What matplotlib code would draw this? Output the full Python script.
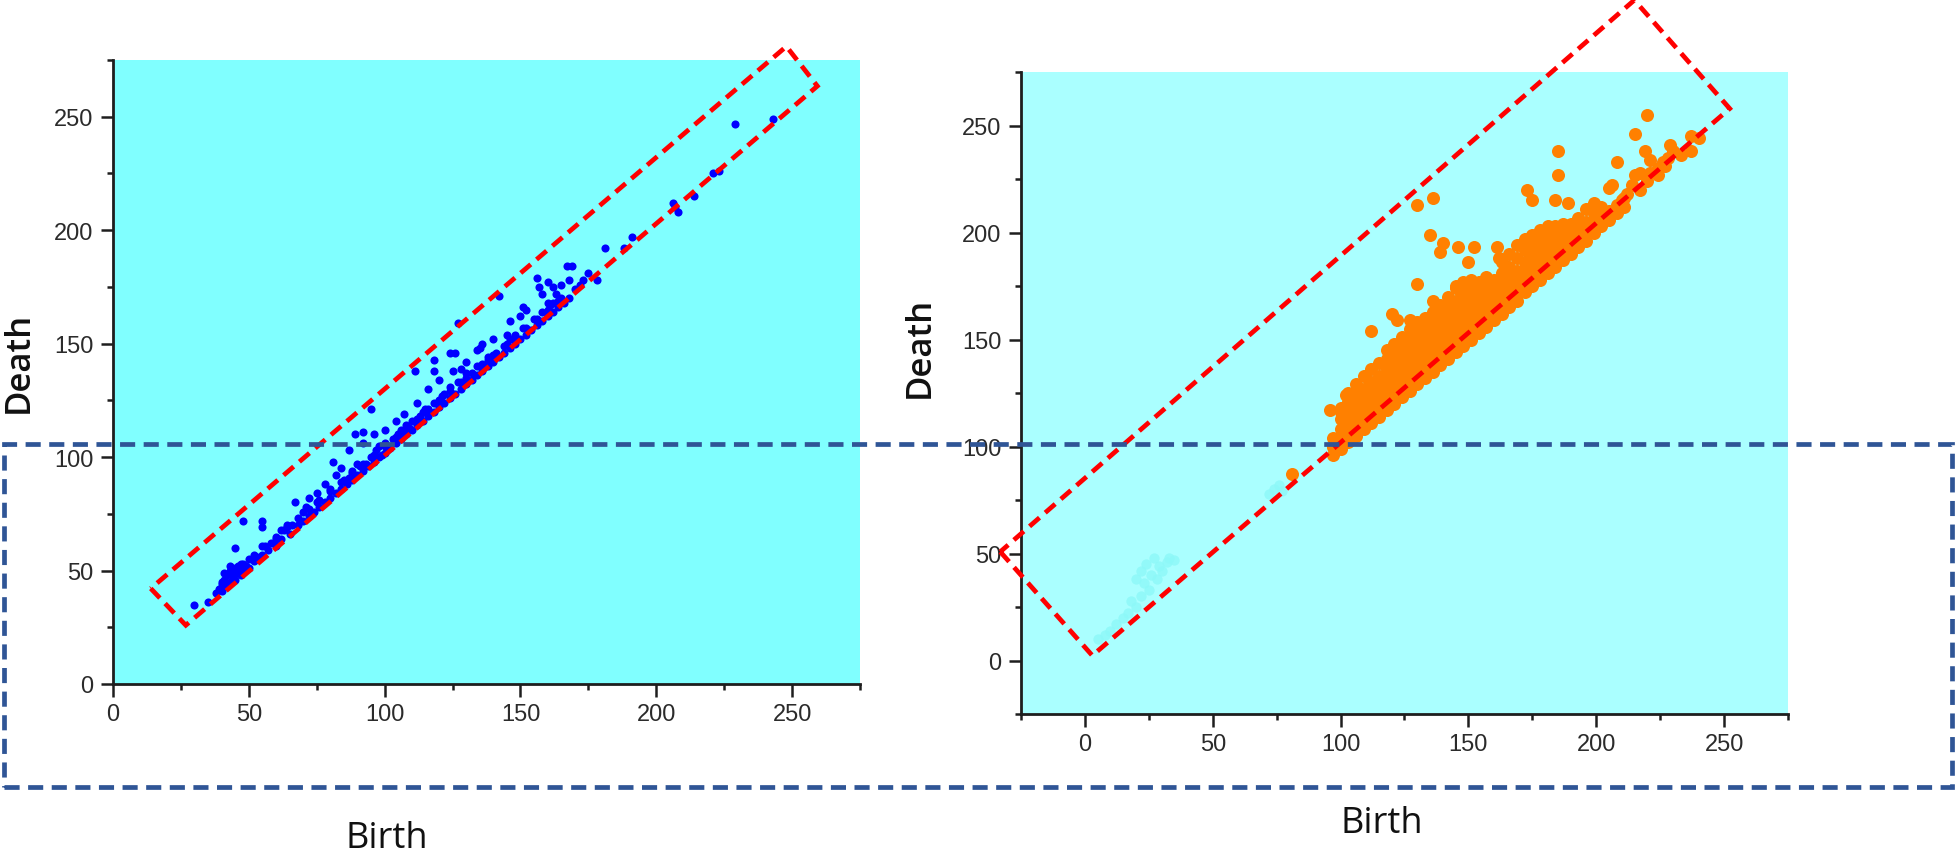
import numpy as np
import matplotlib.pyplot as plt
from matplotlib.patches import Polygon, Rectangle
from matplotlib.ticker import MultipleLocator

# ============================================================
# DATA  (birth, death) pairs
# ============================================================
left_band = [
    (30, 35), (35, 36), (38, 40), (39, 42), (40, 41), (40, 44), (41, 46), (42, 43),
    (42, 48), (43, 45), (43, 50), (44, 47), (45, 46), (45, 51), (46, 49), (47, 48),
    (47, 53), (48, 50), (49, 52), (50, 51), (50, 55), (52, 54), (53, 56), (55, 57),
    (55, 61), (57, 59), (58, 62), (60, 61), (60, 65), (62, 64), (63, 68), (65, 66),
    (66, 70), (68, 70), (70, 72), (70, 76), (72, 74), (74, 76), (75, 80), (76, 78),
    (78, 80), (80, 82), (80, 86), (82, 84), (84, 86), (85, 90), (86, 88), (87, 91),
    (88, 90), (88, 94), (90, 92), (91, 96), (92, 94), (93, 97), (94, 96), (95, 100),
    (96, 98), (97, 103), (98, 100), (99, 101), (100, 102), (100, 106), (101, 103),
    (102, 104), (103, 108), (104, 106), (105, 110), (106, 108), (107, 111), (108, 110),
    (108, 114), (109, 113), (110, 112), (110, 116), (112, 114), (113, 118), (114, 116),
    (115, 121), (116, 118), (118, 120), (118, 124), (120, 122), (121, 127), (122, 124),
    (124, 126), (124, 131), (126, 128), (127, 133), (128, 130), (130, 132), (130, 137),
    (132, 134), (134, 136), (134, 140), (136, 138), (138, 140), (138, 144), (140, 142),
    (141, 146), (142, 144), (144, 146), (145, 150), (146, 148), (148, 150), (148, 154),
    (150, 152), (151, 157), (152, 154), (154, 156), (155, 161), (156, 158), (158, 160),
    (158, 164), (160, 162), (161, 167), (162, 164), (164, 166), (165, 170), (166, 168),
    (168, 170),
]
left_band_upper = [
    (40, 45), (41, 49), (43, 52), (44, 49), (46, 52), (48, 53), (52, 57), (56, 61),
    (60, 64), (64, 69), (68, 73), (72, 77), (76, 81), (80, 85), (84, 89), (88, 93),
    (90, 97), (92, 97), (96, 101), (98, 105), (100, 105), (104, 109), (106, 112),
    (108, 113), (112, 117), (114, 120), (116, 121), (120, 125), (122, 128), (124, 129),
    (128, 133), (130, 135), (132, 137), (136, 141), (138, 143), (140, 145), (144, 149),
    (146, 152), (148, 153), (152, 157), (156, 161), (160, 165), (162, 168), (164, 169),
]
left_outliers = [
    (45, 60), (48, 72), (55, 72), (55, 69), (62, 68), (64, 70), (67, 80), (71, 78),
    (72, 82), (75, 84), (78, 88), (81, 98), (82, 92), (84, 95), (87, 103), (89, 110),
    (92, 106), (92, 111), (95, 121), (96, 110), (100, 112), (104, 116), (107, 119),
    (111, 138), (112, 124), (116, 130), (118, 143), (118, 138), (120, 134), (124, 146),
    (125, 138), (126, 146), (127, 159), (128, 139), (130, 142), (134, 147), (135, 148),
    (136, 150), (140, 152), (142, 171), (145, 154), (146, 160), (150, 162), (151, 166),
    (152, 165), (156, 179), (157, 175), (158, 172), (160, 177), (160, 168), (162, 175),
    (163, 172), (165, 176), (167, 184), (168, 178), (169, 184), (170, 174), (172, 176),
    (173, 178), (175, 181), (178, 178), (181, 192), (188, 192), (191, 197), (206, 212),
    (207, 210), (208, 208), (214, 215), (221, 225), (223, 226), (229, 247), (243, 249),
]

right_band = [
    (97, 96), (97, 100), (97, 104),
    (100, 99), (100, 103), (100, 108), (100, 113), (100, 118),
    (103, 102), (103, 106), (103, 111), (103, 116), (103, 121), (103, 125),
    (106, 105), (106, 109), (106, 114), (106, 119), (106, 124), (106, 129),
    (109, 108), (109, 112), (109, 117), (109, 122), (109, 127), (109, 133),
    (112, 111), (112, 115), (112, 120), (112, 125), (112, 130), (112, 136),
    (115, 114), (115, 118), (115, 123), (115, 128), (115, 133), (115, 139),
    (118, 117), (118, 121), (118, 126), (118, 131), (118, 136), (118, 141), (118, 145),
    (121, 120), (121, 124), (121, 129), (121, 134), (121, 139), (121, 144), (121, 148),
    (124, 123), (124, 127), (124, 132), (124, 137), (124, 142), (124, 147), (124, 151),
    (127, 126), (127, 130), (127, 135), (127, 140), (127, 145), (127, 150), (127, 155),
    (130, 129), (130, 133), (130, 138), (130, 143), (130, 148), (130, 153), (130, 158),
    (133, 132), (133, 136), (133, 141), (133, 146), (133, 151), (133, 156), (133, 160),
    (136, 135), (136, 139), (136, 144), (136, 149), (136, 154), (136, 159), (136, 163),
    (139, 138), (139, 142), (139, 147), (139, 152), (139, 157), (139, 162), (139, 166),
    (142, 141), (142, 145), (142, 150), (142, 155), (142, 160), (142, 165), (142, 170),
    (145, 144), (145, 148), (145, 153), (145, 158), (145, 163), (145, 168), (145, 174),
    (148, 147), (148, 151), (148, 156), (148, 161), (148, 166), (148, 171), (148, 177),
    (151, 150), (151, 154), (151, 159), (151, 164), (151, 169), (151, 174), (151, 178),
    (154, 153), (154, 157), (154, 162), (154, 167), (154, 172), (154, 177),
    (157, 156), (157, 160), (157, 165), (157, 170), (157, 175), (157, 179),
    (160, 159), (160, 163), (160, 168), (160, 173), (160, 178),
    (163, 162), (163, 166), (163, 171), (163, 176), (163, 181), (163, 186),
    (166, 165), (166, 169), (166, 174), (166, 179), (166, 184), (166, 190),
    (169, 168), (169, 172), (169, 177), (169, 182), (169, 188), (169, 194),
    (172, 172), (172, 176), (172, 181), (172, 186), (172, 192), (172, 197),
    (175, 175), (175, 179), (175, 184), (175, 189), (175, 194), (175, 199),
    (178, 178), (178, 182), (178, 187), (178, 192), (178, 197), (178, 201),
    (181, 181), (181, 185), (181, 190), (181, 195), (181, 200), (181, 203),
    (184, 184), (184, 188), (184, 193), (184, 198), (184, 203),
    (187, 187), (187, 191), (187, 196), (187, 201), (187, 204),
    (190, 190), (190, 194), (190, 199), (190, 204),
    (193, 193), (193, 197), (193, 202), (193, 207),
    (196, 196), (196, 200), (196, 205), (196, 211),
    (199, 200), (199, 204), (199, 209),
    (202, 203), (202, 207), (202, 212),
    (205, 206), (205, 210), (208, 209), (208, 213), (211, 212), (211, 216),
]
right_outliers = [
    (81, 87), (96, 117), (100, 116), (102, 124), (112, 154), (120, 162), (122, 159),
    (127, 159), (130, 176), (136, 168), (135, 199), (140, 195), (139, 191), (130, 213),
    (136, 216), (146, 193), (152, 193), (150, 186), (161, 193), (162, 188), (145, 175),
    (147, 172), (173, 220), (175, 215), (184, 215), (189, 214), (185, 238), (185, 227),
    (199, 214), (205, 221), (206, 222), (208, 233), (202, 204), (206, 209), (215, 227),
    (217, 228), (221, 228), (220, 224), (224, 227), (217, 220), (219, 238), (221, 234),
    (215, 246), (220, 255), (229, 241), (237, 245), (240, 244), (237, 238), (233, 236),
    (224, 230), (226, 233), (228, 235), (230, 238), (212, 218), (214, 222), (210, 215),
    (227, 231),
]
# pale cyan smear in the right diagram
right_faded = [
    (5, 10), (8, 12), (10, 14), (12, 17), (15, 20), (17, 22), (18, 28), (20, 25),
    (22, 30), (23, 36), (25, 33), (26, 40), (28, 38), (29, 44), (30, 42), (32, 46),
    (33, 48), (35, 47), (20, 38), (22, 42), (24, 45), (27, 48),
    (72, 78), (74, 80), (76, 82), (77, 79),
]

# red dashed annotation boxes (data coordinates of the corners)
left_box = [(13.9, 42.1), (26.8, 25.9), (259.3, 263.5), (247.9, 281.0)]
right_box = [(-33.1, 50.8), (2.9, 2.3), (252.2, 257.9), (214.9, 308.6)]


# ============================================================
# FIGURE
# ============================================================
W, H = 1958, 854
fig = plt.figure(figsize=(W / 100, H / 100), dpi=100)
plt.rcParams["font.family"] = ["Liberation Sans", "DejaVu Sans"]


def px_box(x0, y0, x1, y1):
    # pixel box (top-left origin) -> figure fraction [l, b, w, h]
    return [x0 / W, 1 - y1 / H, (x1 - x0) / W, (y1 - y0) / H]


ax1 = fig.add_axes(px_box(113, 61, 860, 685))
ax2 = fig.add_axes(px_box(1021, 73, 1788, 715))


def style_axes(ax, xlim, ylim, bg):
    ax.set_facecolor(bg)
    ax.set_xlim(*xlim)
    ax.set_ylim(*ylim)
    for side in ("top", "right"):
        ax.spines[side].set_visible(False)
    for side in ("left", "bottom"):
        ax.spines[side].set_linewidth(2.0)
        ax.spines[side].set_color("#1e1e1e")
    for axis in (ax.xaxis, ax.yaxis):
        axis.set_major_locator(MultipleLocator(50))
        axis.set_minor_locator(MultipleLocator(25))
    ax.tick_params(which="major", direction="out", length=9, width=1.8,
                   color="#1e1e1e", labelsize=17, labelcolor="#2b2b2b", pad=5)
    ax.tick_params(which="minor", direction="out", length=4.5, width=1.8,
                   color="#1e1e1e")


style_axes(ax1, (0, 275), (0, 275), "#80ffff")
style_axes(ax2, (-25, 275), (-25, 275), "#aaffff")

# --- left diagram
lb = np.array(left_band + left_band_upper + left_outliers)
ax1.scatter(lb[:, 0], lb[:, 1], s=34, color="#0000ff", linewidths=0, zorder=3)
ax1.add_patch(Polygon(left_box, closed=True, fill=False, edgecolor="#ff0000",
                      linewidth=3.4, linestyle=(0, (2.8, 1.6)), clip_on=False, zorder=6))

# --- right diagram
rf = np.array(right_faded)
ax2.scatter(rf[:, 0], rf[:, 1], s=55, color="#8cf8f8", alpha=0.8, linewidths=0, zorder=2)
rb = np.array(right_band + right_outliers)
ax2.scatter(rb[:, 0], rb[:, 1], s=88, color="#ff8000", linewidths=0, zorder=3)
ax2.add_patch(Polygon(right_box, closed=True, fill=False, edgecolor="#ff0000",
                      linewidth=3.4, linestyle=(0, (2.8, 1.6)), clip_on=False, zorder=6))

# --- axis titles
label_font = ["Open Sans", "DejaVu Sans"]
fig.text(19 / W, 1 - 362 / H, "Death", rotation=90, ha="center", va="center",
         fontsize=25, fontweight="semibold", family=label_font, color="#111111")
fig.text(920 / W, 1 - 347 / H, "Death", rotation=90, ha="center", va="center",
         fontsize=25, fontweight="semibold", family=label_font, color="#111111")
fig.text(387 / W, 1 - 839 / H, "Birth", ha="center", va="center",
         fontsize=26, family=label_font, color="#111111")
fig.text(1382 / W, 1 - 824 / H, "Birth", ha="center", va="center",
         fontsize=26, family=label_font, color="#111111")

# --- navy dashed region spanning both diagrams
fig.add_artist(Rectangle((3.5 / W, 1 - 788 / H), (1952 - 3.5) / W, (788 - 445) / H,
                         transform=fig.transFigure, fill=False, edgecolor="#2f5596",
                         linewidth=3.4, linestyle=(0, (3.2, 1.8)), zorder=10))

fig.savefig("out.png", dpi=100)
